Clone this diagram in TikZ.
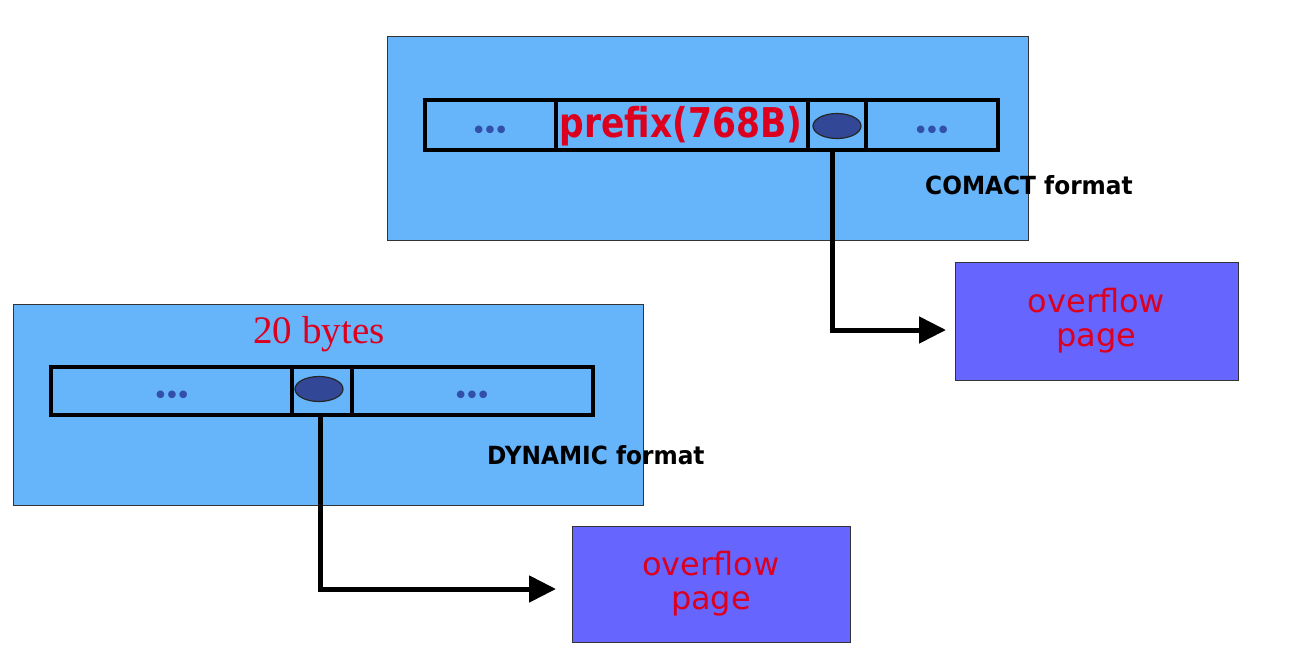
\documentclass[tikz,border=0pt]{standalone}
\usepackage{fontspec}
\setmainfont{Liberation Serif}
\setsansfont{DejaVu Sans}
\newfontfamily\condsans[FakeStretch=0.84]{DejaVu Sans}
\newfontfamily\fmtsans[FakeStretch=0.93]{DejaVu Sans}
\usetikzlibrary{arrows.meta,shapes.geometric}
\definecolor{pageblue}{RGB}{102,180,250}
\definecolor{ovfblue}{RGB}{102,102,255}
\definecolor{txtred}{RGB}{220,0,30}
\definecolor{dotblue}{RGB}{50,80,170}
\definecolor{ellblue}{RGB}{50,72,150}
\newcommand{\bdots}{•\kern-4pt•\kern-4pt•}
\tikzset{
  pagebox/.style={draw=black!80, line width=0.8pt, fill=pageblue},
  ovfbox/.style={draw=black!80, line width=1pt, fill=ovfblue, text=txtred,
    font=\sffamily\fontsize{32}{34}\selectfont, align=center},
  cell/.style={draw=black, line width=4.5pt},
  dots/.style={text=dotblue, font=\sffamily\fontsize{26}{26}\selectfont, anchor=base, inner sep=0pt},
  ptr/.style={fill=ellblue, draw=black!85, line width=1.2pt, ellipse, minimum width=48pt, minimum height=25pt, inner sep=0pt},
  link/.style={line width=5pt, -{Triangle[length=27pt,width=26pt]}},
  fmt/.style={font=\fmtsans\bfseries\fontsize{25}{25}\selectfont, text=black, inner sep=0pt, anchor=base west}
}
\begin{document}
\begin{tikzpicture}[x=1pt,y=-1pt]
\useasboundingbox (0,0) rectangle (1294,670);
% top page (COMPACT)
\draw[pagebox] (387,36) rectangle (1028,240);
\draw[cell] (425,100) rectangle (998,150);
\draw[cell] (556,100) -- (556,150);
\draw[cell] (808,100) -- (808,150);
\draw[cell] (866,100) -- (866,150);
\node[dots] (td1) at (490,139) {\bdots};
\node[text=txtred, font=\condsans\bfseries\fontsize{41}{41}\selectfont, inner sep=0pt, anchor=base] (prefix) at (681,137) {prefix(768B)};
\node[ptr] (tptr) at (837,126) {};
\node[dots] (td2) at (932,139) {\bdots};
\node[fmt] (cfmt) at (925,194) {COMACT format};
% top overflow page
\node[ovfbox, minimum width=283pt, minimum height=118pt, inner sep=0pt] (tovf) at (1096.5,321) {overflow\\page};
\coordinate (tbend) at (832,330);
\coordinate (ttip) at (946,330);
\draw[link] (tptr.south -| tbend) ++(0,12) -- (tbend) -- (ttip);
% bottom page (DYNAMIC)
\draw[pagebox] (13,304) rectangle (643,505);
\node[text=txtred, font=\rmfamily\fontsize{39}{39}\selectfont, anchor=base, inner sep=0pt] (bytes) at (319,343) {20 bytes};
\draw[cell] (51,367) rectangle (593,415);
\draw[cell] (292,367) -- (292,415);
\draw[cell] (352,367) -- (352,415);
\node[dots] (bd1) at (172,404) {\bdots};
\node[ptr] (bptr) at (319,389) {};
\node[dots] (bd2) at (472,404) {\bdots};
\node[fmt] (dfmt) at (487,464) {DYNAMIC format};
% bottom overflow page
\node[ovfbox, minimum width=278pt, minimum height=116pt, inner sep=0pt] (bovf) at (711,584) {overflow\\page};
\coordinate (bbend) at (320,589);
\coordinate (btip) at (556,589);
\draw[link] (bptr.south -| bbend) ++(0,13) -- (bbend) -- (btip);
\end{tikzpicture}
\end{document}
